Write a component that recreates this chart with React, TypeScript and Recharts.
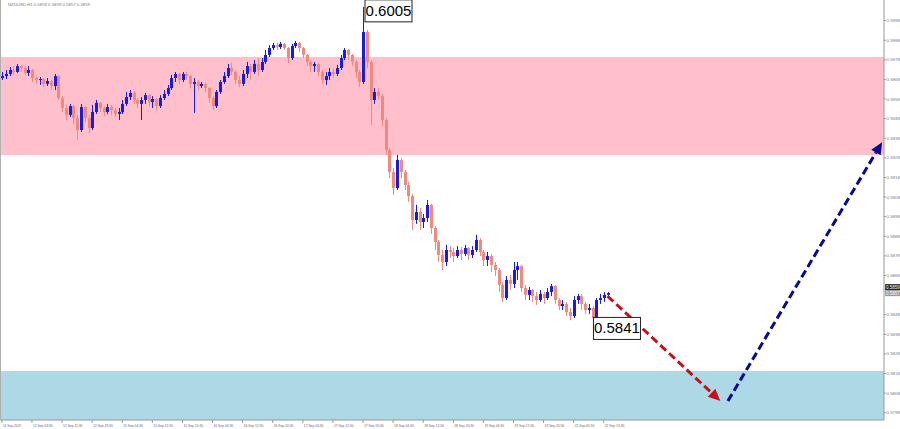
import {
  ComposedChart,
  Bar,
  XAxis,
  YAxis,
  ReferenceArea,
  ReferenceLine,
  ReferenceDot,
} from "recharts";

// NZDUSD hourly candles (open = previous close)
const firstOpen = 0.59687;
const closes = [
  0.59697, 0.59708, 0.59728, 0.59718, 0.59748, 0.59738, 0.59713, 0.59728, 0.59687, 0.59677,
  0.59682, 0.59657, 0.59672, 0.59646, 0.59697, 0.59585, 0.59534, 0.59499, 0.59544, 0.59483,
  0.59422, 0.59539, 0.59483, 0.59432, 0.59514, 0.5956, 0.59534, 0.59514, 0.59539, 0.59524,
  0.59504, 0.59514, 0.59555, 0.5959, 0.59611, 0.59575, 0.59555, 0.59575, 0.596, 0.59565,
  0.5958, 0.59544, 0.59585, 0.59606, 0.59636, 0.59687, 0.59708, 0.59677, 0.59708, 0.59697,
  0.59657, 0.59667, 0.59646, 0.59657, 0.59636, 0.59585, 0.59544, 0.59616, 0.59667, 0.59697,
  0.59738, 0.59718, 0.59677, 0.59657, 0.59708, 0.59748, 0.59718, 0.59759, 0.59728, 0.59769,
  0.59805, 0.5984, 0.59855, 0.59845, 0.59861, 0.5984, 0.59789, 0.5985, 0.59866, 0.5984,
  0.59805, 0.59769, 0.59748, 0.59759, 0.59718, 0.59677, 0.59697, 0.59718, 0.59708, 0.59738,
  0.59789, 0.5983, 0.59805, 0.59769, 0.59718, 0.59667, 0.59922, 0.59769, 0.59575, 0.59616,
  0.59595, 0.59473, 0.5932, 0.59208, 0.59126, 0.59269, 0.59208, 0.59142, 0.59085, 0.58963,
  0.59004, 0.58953, 0.58973, 0.5904, 0.58922, 0.58851, 0.58785, 0.58749, 0.5881, 0.588,
  0.58779, 0.5881, 0.5879, 0.5882, 0.58785, 0.5881, 0.58861, 0.588, 0.58759, 0.58779,
  0.58734, 0.58708, 0.58632, 0.58565, 0.58657, 0.58637, 0.58708, 0.58728, 0.58616, 0.58581,
  0.58606, 0.58575, 0.58555, 0.58586, 0.58565, 0.58596, 0.58626, 0.58555, 0.58524, 0.58535,
  0.58494, 0.58473, 0.58555, 0.58575, 0.58535, 0.58504, 0.58514, 0.58463, 0.58555, 0.58565,
  0.58581, 0.5859,
];
const highs = [
  0.59718, 0.59728, 0.59743, 0.59748, 0.59759, 0.59754, 0.59748, 0.59748, 0.59733, 0.59697,
  0.59692, 0.59687, 0.59687, 0.59677, 0.59708, 0.59703, 0.59595, 0.5955, 0.59555, 0.5955,
  0.59499, 0.59555, 0.59544, 0.59499, 0.5955, 0.59575, 0.59565, 0.59544, 0.59555, 0.5955,
  0.59534, 0.59534, 0.59575, 0.59616, 0.59626, 0.59621, 0.59585, 0.5959, 0.59611, 0.59606,
  0.59595, 0.59585, 0.596, 0.59626, 0.59652, 0.59703, 0.59718, 0.59713, 0.59718, 0.59718,
  0.59703, 0.59687, 0.59677, 0.59667, 0.59662, 0.59641, 0.59595, 0.59626, 0.59677, 0.59718,
  0.59759, 0.59764, 0.59728, 0.59697, 0.59728, 0.59769, 0.59759, 0.59779, 0.59789, 0.59789,
  0.5983, 0.59855, 0.59866, 0.59866, 0.59871, 0.59866, 0.59845, 0.59861, 0.59876, 0.59871,
  0.59845, 0.5981, 0.59779, 0.59769, 0.59764, 0.59728, 0.59718, 0.59738, 0.59733, 0.59754,
  0.59805, 0.5984, 0.59835, 0.5981, 0.59779, 0.59728, 0.6005, 0.59932, 0.59779, 0.59636,
  0.59636, 0.59606, 0.59483, 0.5933, 0.59228, 0.59295, 0.59279, 0.59218, 0.59157, 0.59096,
  0.5904, 0.59024, 0.58994, 0.59065, 0.59045, 0.58932, 0.58861, 0.5881, 0.58836, 0.5883,
  0.5882, 0.5883, 0.58825, 0.58836, 0.58825, 0.5883, 0.58887, 0.58871, 0.5881, 0.588,
  0.5879, 0.58749, 0.58718, 0.58647, 0.58677, 0.58683, 0.58749, 0.58749, 0.58734, 0.58632,
  0.58621, 0.58611, 0.58596, 0.58606, 0.58596, 0.58616, 0.58637, 0.58632, 0.58565, 0.58555,
  0.58545, 0.58514, 0.58575, 0.58586, 0.58586, 0.58545, 0.58535, 0.58524, 0.58565, 0.58586,
  0.58596, 0.58596,
];
const lows = [
  0.59677, 0.59682, 0.59697, 0.59703, 0.59713, 0.59718, 0.59703, 0.59697, 0.59667, 0.59657,
  0.59652, 0.59641, 0.59646, 0.59626, 0.59626, 0.59575, 0.59514, 0.59473, 0.59488, 0.59453,
  0.59371, 0.59412, 0.59463, 0.59407, 0.59422, 0.59504, 0.59514, 0.59493, 0.59504, 0.59499,
  0.59488, 0.59473, 0.59504, 0.59544, 0.59575, 0.59555, 0.59534, 0.59473, 0.59555, 0.59544,
  0.59534, 0.59524, 0.59534, 0.59575, 0.59595, 0.59626, 0.59667, 0.59657, 0.59667, 0.59677,
  0.59636, 0.59509, 0.59626, 0.59636, 0.59616, 0.5956, 0.59524, 0.59534, 0.59606, 0.59657,
  0.59687, 0.59703, 0.59657, 0.59641, 0.59646, 0.59687, 0.59677, 0.59708, 0.59697, 0.59718,
  0.59759, 0.59794, 0.5983, 0.5983, 0.59835, 0.5983, 0.59764, 0.59779, 0.5984, 0.5982,
  0.59789, 0.59748, 0.59718, 0.59718, 0.59697, 0.59657, 0.59652, 0.59677, 0.59687, 0.59697,
  0.59728, 0.59779, 0.59779, 0.59748, 0.59687, 0.59641, 0.59657, 0.59738, 0.59448, 0.59555,
  0.59575, 0.59442, 0.59295, 0.59177, 0.59091, 0.59116, 0.59177, 0.59116, 0.59055, 0.58912,
  0.58943, 0.58912, 0.58922, 0.58953, 0.58892, 0.5881, 0.58749, 0.58708, 0.58728, 0.58769,
  0.58749, 0.58769, 0.58759, 0.58779, 0.58759, 0.58769, 0.588, 0.58779, 0.58728, 0.58728,
  0.58698, 0.58677, 0.58596, 0.58545, 0.58555, 0.58606, 0.58616, 0.58657, 0.58596, 0.58555,
  0.58555, 0.58545, 0.5853, 0.58545, 0.58535, 0.58555, 0.58575, 0.58535, 0.58504, 0.58504,
  0.58473, 0.58453, 0.58463, 0.58535, 0.58504, 0.58484, 0.58484, 0.5841, 0.58453, 0.58535,
  0.58545, 0.58565,
];

const timeLabels = [
  "11 Sep 2025", "12 Sep 03:30", "12 Sep 11:30", "12 Sep 19:30", "15 Sep 04:30",
  "15 Sep 12:30", "15 Sep 20:30", "16 Sep 04:30", "16 Sep 12:30", "16 Sep 20:30",
  "17 Sep 04:30", "17 Sep 12:30", "17 Sep 20:30", "18 Sep 04:30", "18 Sep 12:30",
  "18 Sep 20:30", "19 Sep 04:30", "19 Sep 12:30", "19 Sep 20:30", "22 Sep 05:30",
  "22 Sep 13:30",
];
const LABEL_EVERY = 8;

// the 0.5858 level sits under the quote tags, so it is not labelled
const priceTicks = [
  0.6008, 0.5998, 0.5988, 0.5978, 0.5968, 0.5958, 0.5948, 0.5938, 0.5928, 0.5918, 0.5908,
  0.5898, 0.5888, 0.5878, 0.5868, 0.5848, 0.5838, 0.5828, 0.5818, 0.5808, 0.5798,
];

// resistance / support zones
const sellZone = [0.59295, 0.59794];
const buyZone = [0.57943, 0.58193];

// forecast arrows: [fromBar, fromPrice, toBar, toPrice]
const forecastDown = [161, 0.58575, 191, 0.5804];
const forecastUp = [193, 0.5804, 234, 0.5936];

// last quotes shown on the price scale
const askPrice = 0.5859;
const bidPrice = 0.5857;

const SLOTS = 235;
const BULL = "#1a1ae6";
const BEAR = "#f08a7e";

const rows = Array.from({ length: SLOTS }, (_, i) => {
  if (i >= closes.length) return { i };
  const open = i === 0 ? firstOpen : closes[i - 1];
  return { i, open, close: closes[i], high: highs[i], low: lows[i], range: [lows[i], highs[i]] };
});

const peakIdx = highs.indexOf(Math.max(...highs));
const lowIdx = lows.indexOf(Math.min(...lows));

const Candle = (props: any) => {
  const { x, y, width, height, payload } = props;
  if (payload == null || payload.close == null) return null;
  const { open, close, high, low } = payload;
  const top = Math.min(y, y + height);
  const h = Math.abs(height);
  const ppu = h / (high - low || 1e-9);
  const bTop = top + (high - Math.max(open, close)) * ppu;
  const bBot = top + (high - Math.min(open, close)) * ppu;
  const cx = Math.round(x + width / 2);
  const color = close >= open ? BULL : BEAR;
  return (
    <g>
      <line x1={cx + 0.5} x2={cx + 0.5} y1={top} y2={top + h} stroke={color} strokeWidth={1} />
      <rect x={cx - 1} y={bTop} width={3} height={Math.max(bBot - bTop, 1)} fill={color} />
    </g>
  );
};

const TimeTick = (props: any) => {
  const { x, y, payload } = props;
  const v = Number(payload.value);
  if (v % LABEL_EVERY !== 0) return null;
  const label = timeLabels[v / LABEL_EVERY];
  if (!label) return null;
  return (
    <g>
      <line x1={x} x2={x} y1={y} y2={y + 3} stroke="#999" />
      <text x={x + 1} y={y + 6.5} fontSize={3.3} fill="#666" fontFamily="Arial">
        {label}
      </text>
    </g>
  );
};

const arrowShape = (color: string) => (p: any) => {
  const { x1, y1, x2, y2 } = p;
  const a = Math.atan2(y2 - y1, x2 - x1);
  const L = 12;
  const W = 5.5;
  const bx = x2 - L * Math.cos(a);
  const by = y2 - L * Math.sin(a);
  const nx = -Math.sin(a) * W;
  const ny = Math.cos(a) * W;
  return (
    <g>
      <line x1={x1} y1={y1} x2={bx} y2={by} stroke={color} strokeWidth={3} strokeDasharray="8 4" />
      <polygon points={`${x2},${y2} ${bx + nx},${by + ny} ${bx - nx},${by - ny}`} fill={color} />
    </g>
  );
};

const priceBox = (text: string, dx: number, dy: number) => (p: any) => {
  const { cx, cy } = p;
  return (
    <g>
      <rect x={cx + dx} y={cy + dy} width={47} height={22} fill="#fff" stroke="#222" strokeWidth={1} />
      <text x={cx + dx + 23.5} y={cy + dy + 16} textAnchor="middle" fontSize={15} fontFamily="Arial" fill="#000">
        {text}
      </text>
    </g>
  );
};

// quote tags drawn just right of the plot, on the price scale
const quoteTags = (p: any) => {
  const { cx, cy } = p;
  const x0 = cx + 3;
  return (
    <g>
      <rect x={x0} y={cy - 9} width={16} height={6} fill="#222" />
      <text x={x0 + 1} y={cy - 4.3} fontSize={4.5} fill="#fff" fontFamily="Arial">
        {askPrice.toFixed(4)}
      </text>
      <rect x={x0} y={cy - 3} width={16} height={6} fill="#9a9a9a" />
      <text x={x0 + 1} y={cy + 1.7} fontSize={4.5} fill="#fff" fontFamily="Arial">
        {bidPrice.toFixed(4)}
      </text>
    </g>
  );
};

const App = () => {
  return (
    <div style={{ position: "relative", width: 900, height: 429, background: "#fff", overflow: "hidden" }}>
      <style>{`body{margin:0}`}</style>
      <div
        style={{
          position: "absolute",
          left: 0,
          top: 0,
          width: 1,
          height: 420,
          background: "#b0b0b0",
          zIndex: 2,
        }}
      />
      <div
        style={{
          position: "absolute",
          left: 8,
          top: 2,
          fontSize: 4.3,
          color: "#777",
          fontFamily: "Arial",
          zIndex: 2,
          whiteSpace: "nowrap",
        }}
      >
        NZDUSD,H1 0.5859 0.5859 0.5857 0.5859
      </div>
      <ComposedChart width={900} height={429} data={rows} margin={{ top: 0, right: 0, bottom: 0, left: 0 }} barCategoryGap={0}>
        <ReferenceArea y1={sellZone[0]} y2={sellZone[1]} fill="#ffc0cb" fillOpacity={1} stroke="none" />
        <ReferenceArea y1={buyZone[0]} y2={buyZone[1]} fill="#add8e6" fillOpacity={1} stroke="none" />
        <XAxis
          dataKey="i"
          type="category"
          interval={0}
          height={9}
          tickSize={0}
          tickMargin={0}
          tick={<TimeTick />}
          axisLine={{ stroke: "#999" }}
        />
        <YAxis
          orientation="right"
          width={16}
          domain={[0.57943, 0.60085]}
          allowDataOverflow
          ticks={priceTicks}
          tickFormatter={(v: number) => v.toFixed(4)}
          tick={{ fontSize: 4.4, fill: "#777", fontFamily: "Arial" }}
          tickSize={2}
          tickMargin={0.5}
          axisLine={{ stroke: "#999" }}
          tickLine={{ stroke: "#999" }}
        />
        <Bar dataKey="range" shape={<Candle />} isAnimationActive={false} />
        <ReferenceLine
          segment={[
            { x: forecastDown[0], y: forecastDown[1] },
            { x: forecastDown[2], y: forecastDown[3] },
          ]}
          shape={arrowShape("#c0141a")}
        />
        <ReferenceLine
          segment={[
            { x: forecastUp[0], y: forecastUp[1] },
            { x: forecastUp[2], y: forecastUp[3] },
          ]}
          shape={arrowShape("#0a0a8c")}
        />
        <ReferenceDot
          x={peakIdx}
          y={highs[peakIdx]}
          r={0}
          ifOverflow="visible"
          shape={priceBox(highs[peakIdx].toFixed(4), 2, -7)}
        />
        <ReferenceDot
          x={lowIdx}
          y={lows[lowIdx]}
          r={0}
          ifOverflow="visible"
          shape={priceBox(lows[lowIdx].toFixed(4), 1, -11)}
        />
        <ReferenceDot x={SLOTS - 1} y={askPrice} r={0} ifOverflow="visible" shape={quoteTags} />
      </ComposedChart>
    </div>
  );
};

export default App;
